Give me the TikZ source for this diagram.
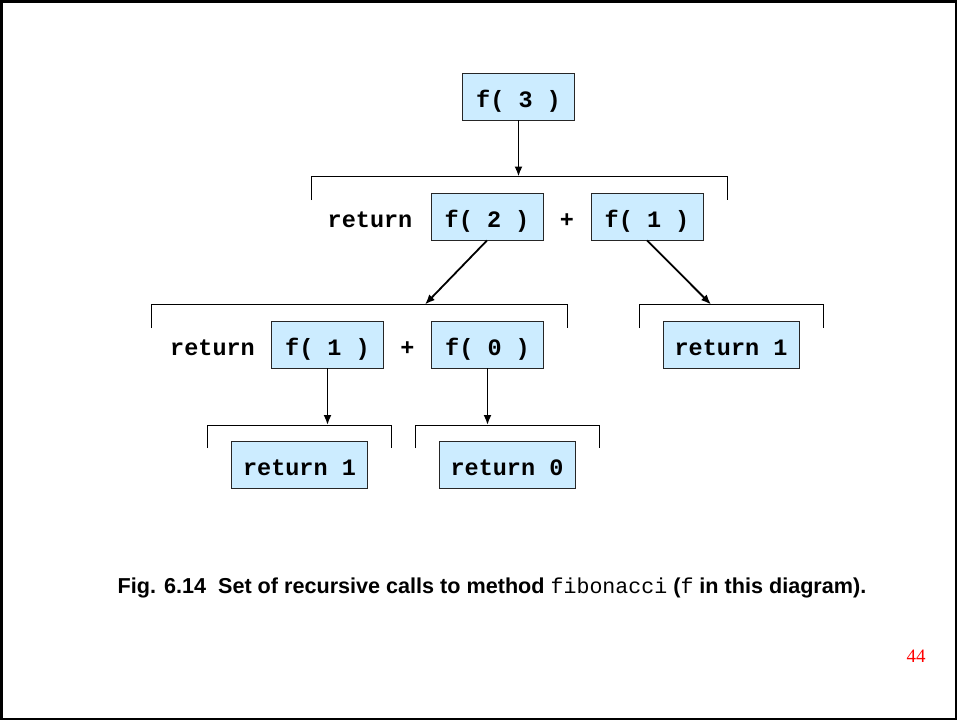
\documentclass[tikz,border=0pt]{standalone}
\usepackage{fontspec}
\setmainfont{Liberation Sans}
\newfontfamily\codefont{Liberation Mono}
\newfontfamily\pagefont{Liberation Serif}
\usetikzlibrary{arrows.meta,positioning}
\definecolor{callblue}{HTML}{CCECFF}
\newcommand\codebf{\codefont\bfseries\fontsize{23.5}{24}\selectfont}

\begin{document}
\begin{tikzpicture}[x=1pt,y=-1pt,
    call/.style={draw=black!85, fill=callblue, line width=0.9pt, minimum width=112pt,
      minimum height=47pt, inner sep=0pt, font=\codebf, text height=23pt, text depth=2pt},
    leaf/.style={call, minimum width=136pt},
    word/.style={font=\codebf, inner sep=0pt, text height=23pt, text depth=2pt},
    bracket/.style={line width=1pt},
    link/.style={line width=1.8pt, -{Latex[length=10pt,width=8pt]}}]
    \useasboundingbox (0,0) rectangle (957,720);
    \draw[line width=2.5pt] (1.25,1.25) rectangle (955.75,718.75);

    \node[call] (f3) at (518.5,96.5) {f( 3 )};

    \node[call] (f2) at (487,216.5) {f( 2 )};
    \node[call] (f1) at (647,216.5) {f( 1 )};
    \node[word, left=18pt of f2] (ret2) {return};
    \node[word] (plus2) at (567,216.5) {+};

    \node[call] (f1b) at (327.5,344.5) {f( 1 )};
    \node[call] (f0) at (487.5,344.5) {f( 0 )};
    \node[word, left=16pt of f1b] (ret3) {return};
    \node[word] (plus3) at (407.5,344.5) {+};
    \node[leaf] (r1a) at (731,344.5) {return 1};

    \node[leaf] (r1b) at (299.5,464.5) {return 1};
    \node[leaf] (r0) at (507,464.5) {return 0};

    \coordinate (t1) at (518.5,176.5);
    \coordinate (t2) at (425,304.5);
    \coordinate (t3) at (711,304.5);
    \coordinate (t4) at (327.5,425);
    \coordinate (t5) at (487.5,425);

    \draw[bracket] (311.5,200) |- (727.5,176.5) -- (727.5,200);
    \draw[bracket] (151.5,328) |- (567.5,304.5) -- (567.5,328);
    \draw[bracket] (639,328) |- (823,304.5) -- (823,328);
    \draw[bracket] (207,448) |- (391,425) -- (391,448);
    \draw[bracket] (415,448) |- (599,425) -- (599,448);

    \draw[link] (f3) -- (t1);
    \draw[link] (f2.south) -- (t2);
    \draw[link] (f1.south) -- (t3);
    \draw[link] (f1b) -- (t4);
    \draw[link] (f0) -- (t5);

    \node[anchor=base, font=\bfseries\fontsize{21.6}{22}\selectfont] (caption) at (492,593)
      {Fig. 6.14\ \ Set of recursive calls to method {\codefont\mdseries fibonacci} ({\codefont\mdseries f} in this diagram).};
    \node[anchor=base, text=red, font=\pagefont\fontsize{19}{20}\selectfont] (page) at (916,662) {44};
\end{tikzpicture}
\end{document}
